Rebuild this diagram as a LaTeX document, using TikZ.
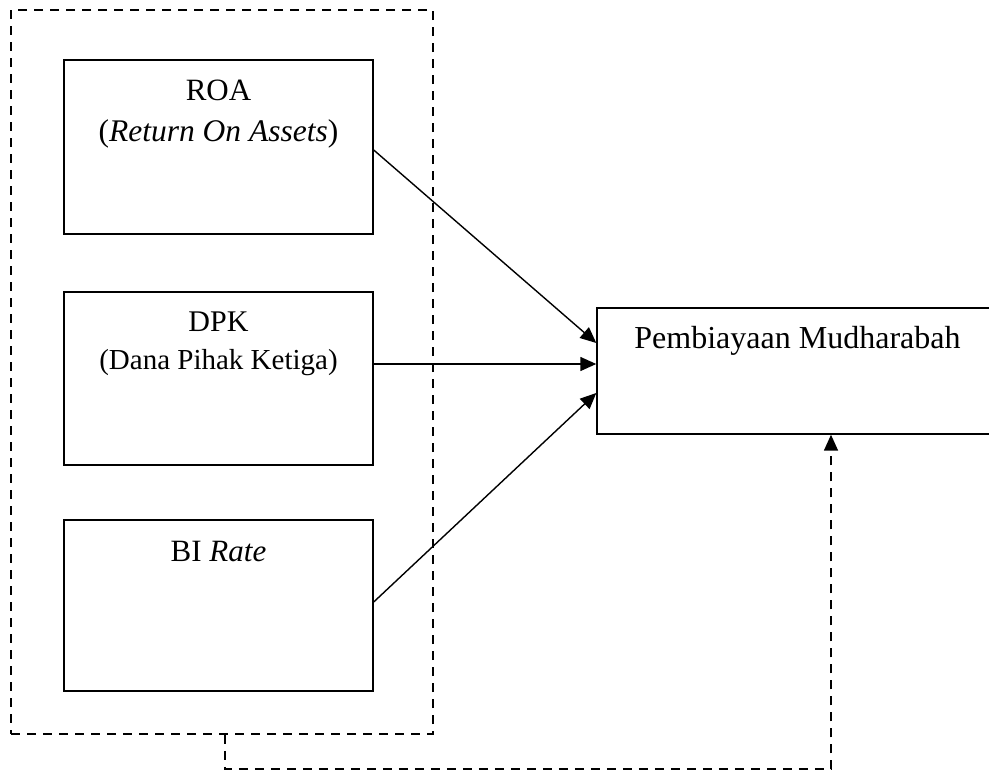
\documentclass[tikz,border=0pt]{standalone}
\usepackage{fontspec}
\setmainfont{Liberation Serif}
\usetikzlibrary{arrows.meta,calc}
\begin{document}
\begin{tikzpicture}[x=1pt,y=-1pt,
  box/.style={draw,line width=1.4pt,minimum width=309pt,inner sep=0pt},
  dbox/.style={draw,line width=1.5pt,dash pattern=on 9pt off 7pt,inner sep=0pt},
  txt/.style={anchor=base,inner sep=0pt,font=\fontsize{30}{36}\selectfont},
  arr/.style={line width=1.4pt,-{Triangle[length=16pt,width=14pt]}},
  darr/.style={line width=1.5pt,dash pattern=on 9pt off 7pt,-{Triangle[length=16pt,width=14pt]}}]
\clip (0,0) rectangle (989,771);
\fill[white] (0,0) rectangle (989,771);
\node[dbox,minimum width=422pt,minimum height=724pt] (outer) at (222,372) {};
\node[box,minimum height=174pt] (roa) at (218.5,147) {};
\node[box,minimum height=173pt] (dpk) at (218.5,378.5) {};
\node[box,minimum height=171pt] (bi) at (218.5,605.5) {};
\node[box,minimum width=403pt,minimum height=126pt] (pm) at (798.5,371) {};
\node[txt,font=\fontsize{31}{36}\selectfont] (t1) at (218.5,100) {ROA};
\node[txt,font=\fontsize{31.5}{36}\selectfont] (t2) at (218.5,141) {(\textit{Return On Assets})};
\node[txt] (t3) at (218.5,331) {DPK};
\node[txt,font=\fontsize{29}{36}\selectfont] (t4) at (218.5,369) {(Dana Pihak Ketiga)};
\node[txt,font=\fontsize{31}{36}\selectfont] (t5) at (218.5,561) {BI \textit{Rate}};
\node[txt,font=\fontsize{32}{36}\selectfont] (t6) at (797.5,348) {Pembiayaan Mudharabah};
\draw[arr] ([yshift=-3pt]roa.east) -- ([yshift=28pt]pm.west);
\draw[arr] ([yshift=14.5pt]dpk.east) -- ([yshift=7pt]pm.west);
\draw[arr] ([yshift=3.5pt]bi.east) -- ([yshift=-22pt]pm.west);
\coordinate (c1) at (225,769);
\coordinate (c2) at (831,769);
\draw[darr] ([xshift=3pt]outer.south) -- (c1) -- (c2) -- ([xshift=32.5pt]pm.south);
\end{tikzpicture}
\end{document}
